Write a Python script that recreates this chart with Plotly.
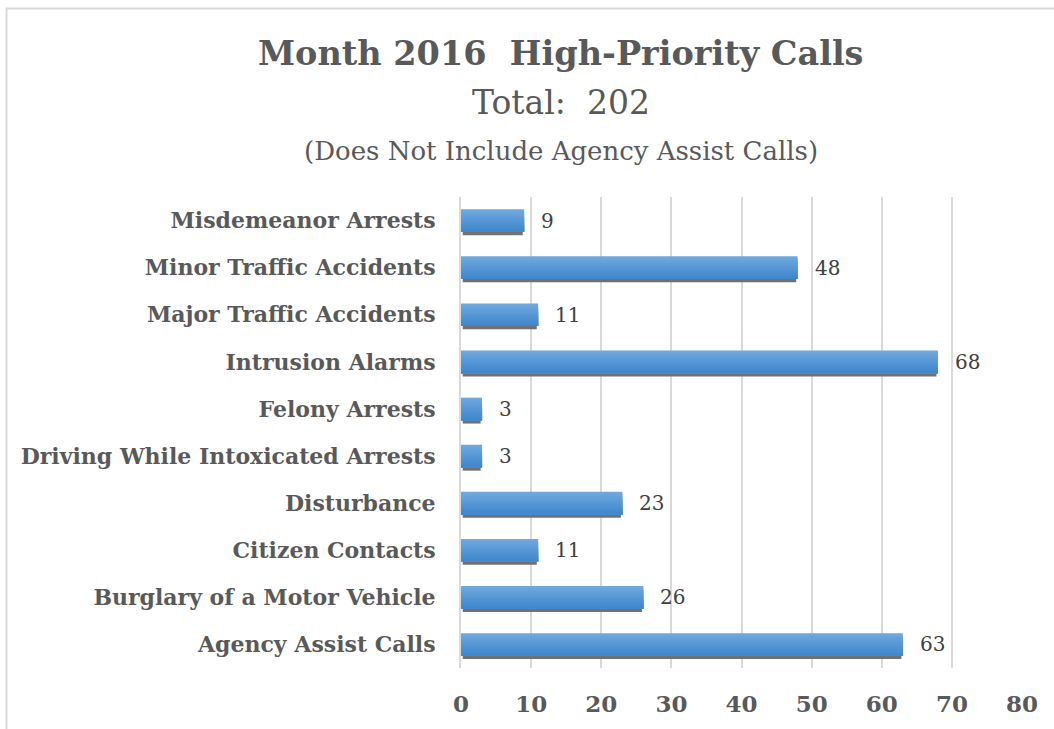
import plotly.graph_objects as go

categories = [
    "Agency Assist Calls",
    "Burglary of a Motor Vehicle",
    "Citizen Contacts",
    "Disturbance",
    "Driving While Intoxicated Arrests",
    "Felony Arrests",
    "Intrusion Alarms",
    "Major Traffic Accidents",
    "Minor Traffic Accidents",
    "Misdemeanor Arrests",
]
values = [63, 26, 11, 23, 3, 3, 68, 11, 48, 9]
x_ticks = [0, 10, 20, 30, 40, 50, 60, 70, 80]

FONT = "DejaVu Serif"
BW = 0.48

fig = go.Figure()

# shadow
fig.add_trace(go.Bar(
    y=categories, x=[v - 0.45 for v in values], base=0.25, orientation="h",
    offset=-BW / 2 - 0.07, width=BW, marker=dict(color="#707070", line=dict(width=0)),
    hoverinfo="skip", showlegend=False,
))

# gradient bands (light top -> darker bottom)
top = (0x6e, 0xa8, 0xde)
bot = (0x40, 0x87, 0xcd)
N = 10
for i in range(N):
    t = i / (N - 1)
    c = tuple(round(top[k] + (bot[k] - top[k]) * t) for k in range(3))
    w = BW * (N - i) / N
    fig.add_trace(go.Bar(
        y=categories, x=values, orientation="h",
        offset=-BW / 2, width=w,
        marker=dict(color="rgb(%d,%d,%d)" % c, line=dict(width=0)),
        hoverinfo="skip", showlegend=False,
    ))

fig.update_layout(
    width=1054, height=729,
    margin=dict(l=461, r=32, t=197, b=55),
    paper_bgcolor="white", plot_bgcolor="white",
    barmode="overlay",
    showlegend=False,
    xaxis=dict(
        range=[0, 80], tickvals=x_ticks, showgrid=True, gridcolor="#d9d9d9", gridwidth=2,
        zeroline=False, showline=False, ticks="", ticklabelstandoff=20,
        tickfont=dict(family=FONT, size=23, color="#595959", weight="bold"),
    ),
    yaxis=dict(
        type="category", categoryorder="array", categoryarray=categories,
        showgrid=False, zeroline=False, showline=True, linecolor="#d9d9d9", linewidth=2,
        ticks="", ticklabelstandoff=19,
        tickfont=dict(family=FONT, size=22, color="#595959", weight="bold"),
    ),
)

for cat, v in zip(categories, values):
    fig.add_annotation(
        x=v, y=cat, text=str(v), showarrow=False, xanchor="left", xshift=15,
        font=dict(family=FONT, size=20, color="#404040"),
    )

# chart titles positioned relative to plot (paper) coords
px0, pw, py0, ph = 461, 561, 674, 477
def xp(px):
    return (px - px0) / pw
def yp(py):
    return (py0 - py) / ph

fig.add_annotation(x=xp(560), y=yp(52), xref="paper", yref="paper",
                   text="<b>Month 2016  High-Priority Calls</b>", showarrow=False,
                   xanchor="center", yanchor="middle",
                   font=dict(family=FONT, size=33.5, color="#595959"))
fig.add_annotation(x=xp(561), y=yp(101), xref="paper", yref="paper",
                   text="Total:  202", showarrow=False,
                   xanchor="center", yanchor="middle",
                   font=dict(family=FONT, size=33, color="#595959"))
fig.add_annotation(x=xp(561), y=yp(150), xref="paper", yref="paper",
                   text="(Does Not Include Agency Assist Calls)", showarrow=False,
                   xanchor="center", yanchor="middle",
                   font=dict(family=FONT, size=26, color="#595959"))

# outer chart border
fig.add_shape(type="rect", xref="paper", yref="paper",
              x0=xp(6.5), x1=xp(1100), y0=yp(6), y1=yp(800),
              line=dict(color="#d9d9d9", width=2), fillcolor="rgba(0,0,0,0)", layer="below")

fig.write_html(
    "out.html",
    config={"displayModeBar": False},
    post_script="document.body.style.margin='0';document.body.style.overflow='hidden';",
)
